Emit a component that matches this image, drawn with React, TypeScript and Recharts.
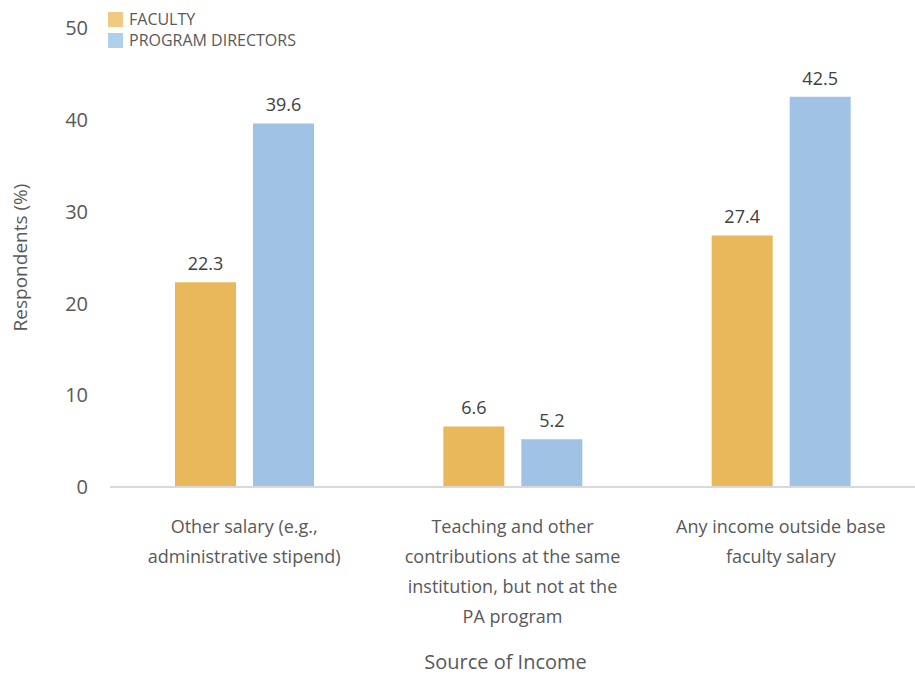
import { BarChart, Bar, XAxis, YAxis, Legend, LabelList, Label } from 'recharts';

const categories = [
  'Other salary (e.g.,|administrative stipend)',
  'Teaching and other|contributions at the same|institution, but not at the|PA program',
  'Any income outside base|faculty salary',
];
const facultyValues = [22.3, 6.6, 27.4];
const directorValues = [39.6, 5.2, 42.5];
const yTicks = [0, 10, 20, 30, 40, 50];

const FACULTY = '#E9B85A';
const DIRECTORS = '#9FC2E5';
const FONT = "'Open Sans', 'Noto Sans', sans-serif";

const data = categories.map((c, i) => ({
  category: c,
  faculty: facultyValues[i],
  directors: directorValues[i],
}));

const CategoryTick = ({ x, y, payload }: any) => {
  const lines = String(payload.value).split('|');
  return (
    <g transform={`translate(${x},${y})`}>
      {lines.map((line, i) => (
        <text key={i} x={0} y={0} dy={38 + i * 30} textAnchor="middle" fill="#595959" fontSize={18} fontFamily={FONT}>
          {line}
        </text>
      ))}
    </g>
  );
};

const LegendContent = () => (
  <div style={{ fontFamily: FONT, fontSize: 16, color: '#595959', lineHeight: '21px', textAlign: 'left' }}>
    <div style={{ display: 'flex', alignItems: 'center' }}>
      <span style={{ width: 15, height: 15, background: '#F0CA80', marginRight: 6, display: 'inline-block' }} />
      FACULTY
    </div>
    <div style={{ display: 'flex', alignItems: 'center' }}>
      <span style={{ width: 15, height: 15, background: '#B0CFEA', marginRight: 6, display: 'inline-block' }} />
      PROGRAM DIRECTORS
    </div>
  </div>
);

export default function App() {
  return (
    <div style={{ position: 'absolute', left: 0, top: 0, width: 915, height: 677, background: '#fff' }}>
      <BarChart
        width={915}
        height={677}
        data={data}
        margin={{ top: 28, right: 0, left: 0, bottom: 0 }}
        barSize={61}
        barGap={17}
      >
        <XAxis
          dataKey="category"
          axisLine={{ stroke: '#D9D9D9', strokeWidth: 2 }}
          tickLine={false}
          tick={<CategoryTick />}
          height={190}
          interval={0}
        >
          <Label
            value="Source of Income"
            position="insideBottom"
            offset={8}
            dx={-7}
            fill="#595959"
            fontSize={20}
            fontFamily={FONT}
          />
        </XAxis>
        <YAxis
          width={110}
          domain={[0, 50]}
          ticks={yTicks}
          axisLine={false}
          tickLine={false}
          tickMargin={16}
          tick={{ fill: '#595959', fontSize: 20, fontFamily: FONT }}
          label={({ viewBox }: any) => (
            <text
              x={20}
              y={viewBox.y + viewBox.height / 2}
              transform={`rotate(-90, 20, ${viewBox.y + viewBox.height / 2})`}
              textAnchor="middle"
              dominantBaseline="central"
              fill="#595959"
              fontSize={19}
              fontFamily={FONT}
            >
              Respondents (%)
            </text>
          )}
        />
        <Legend
          verticalAlign="middle"
          align="center"
          layout="horizontal"
          content={<LegendContent />}
          wrapperStyle={{ position: 'absolute', left: 108, top: 9, width: 250 }}
        />
        <Bar dataKey="faculty" fill={FACULTY} isAnimationActive={false}>
          <LabelList dataKey="faculty" position="top" offset={12} fill="#404040" fontSize={18} fontFamily={FONT} />
        </Bar>
        <Bar dataKey="directors" fill={DIRECTORS} isAnimationActive={false}>
          <LabelList dataKey="directors" position="top" offset={12} fill="#404040" fontSize={18} fontFamily={FONT} />
        </Bar>
      </BarChart>
    </div>
  );
}
